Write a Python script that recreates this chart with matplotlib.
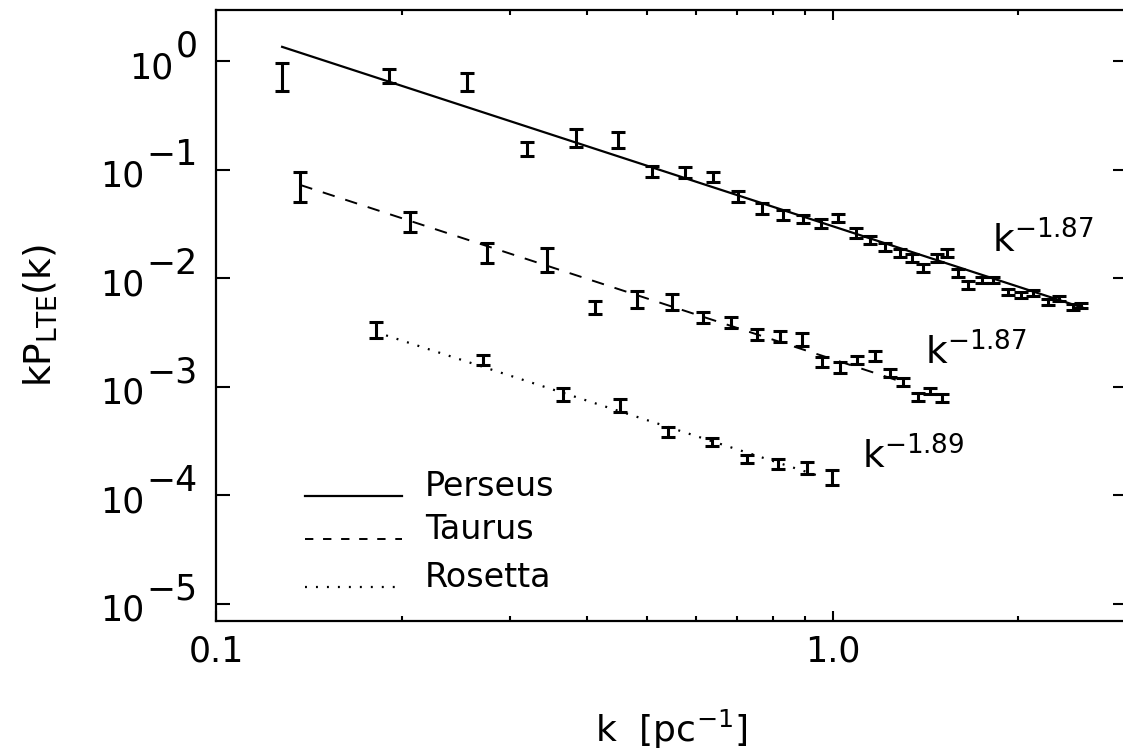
import numpy as np
import matplotlib
matplotlib.use('Agg')
import matplotlib.pyplot as plt
from matplotlib.ticker import LogLocator, NullLocator, NullFormatter, FixedLocator, FixedFormatter

plt.rcParams['font.family'] = 'DejaVu Sans'
plt.rcParams['mathtext.fontset'] = 'dejavusans'
plt.rcParams['mathtext.default'] = 'regular'
plt.rcParams['lines.scale_dashes'] = False

# Perseus: k [pc^-1], kP(k), half error bar in dex
pers_k = [0.128, 0.191, 0.255, 0.319, 0.383, 0.449, 0.510, 0.575, 0.639, 0.702,
          0.768, 0.830, 0.894, 0.956, 1.019, 1.089, 1.148, 1.214, 1.284, 1.343,
          1.40, 1.475, 1.53, 1.595, 1.655, 1.744, 1.816, 1.921, 2.02, 2.11,
          2.23, 2.33, 2.45, 2.53]
pers_p = [0.71, 0.73, 0.64, 0.155, 0.195, 0.187, 0.095, 0.093, 0.085, 0.056,
          0.044, 0.038, 0.035, 0.032, 0.0357, 0.026, 0.0224, 0.0193, 0.017, 0.0153,
          0.0124, 0.0153, 0.017, 0.0111, 0.0086, 0.0096, 0.0096, 0.0074, 0.0070, 0.0073,
          0.0060, 0.0065, 0.0054, 0.0056]
pers_err = [0.13, 0.065, 0.08, 0.065, 0.08, 0.075, 0.05, 0.05, 0.045, 0.05,
            0.05, 0.045, 0.04, 0.04, 0.04, 0.045, 0.04, 0.035, 0.035, 0.035,
            0.04, 0.035, 0.04, 0.035, 0.035, 0.03, 0.03, 0.03, 0.03, 0.025,
            0.03, 0.025, 0.025, 0.025]

# Taurus
taur_k = [0.137, 0.206, 0.275, 0.344, 0.411, 0.481, 0.548, 0.615, 0.685, 0.753,
          0.82, 0.891, 0.96, 1.026, 1.094, 1.17, 1.237, 1.30, 1.373, 1.436, 1.502]
taur_p = [0.069, 0.0328, 0.017, 0.0147, 0.0054, 0.0063, 0.0060, 0.0043, 0.0039, 0.0030,
          0.0029, 0.0027, 0.00168, 0.0015, 0.00175, 0.0019, 0.00133, 0.0011, 0.0008,
          0.00091, 0.00078]
taur_err = [0.14, 0.09, 0.09, 0.11, 0.06, 0.08, 0.07, 0.05, 0.05, 0.05,
            0.05, 0.06, 0.045, 0.05, 0.04, 0.045, 0.04, 0.035, 0.04, 0.03, 0.035]

# Rosetta
ros_k = [0.1815, 0.271, 0.365, 0.452, 0.540, 0.637, 0.725, 0.814, 0.908, 0.996]
ros_p = [0.00332, 0.00175, 0.00084, 0.00067, 0.000381, 0.000308, 0.000215,
         0.000193, 0.000177, 0.000144]
ros_err = [0.075, 0.045, 0.06, 0.06, 0.045, 0.035, 0.04, 0.045, 0.055, 0.07]

# power-law fits (end points)
pers_fit_k = [0.128, 2.55]
pers_fit_p = [1.35, 0.0053]
taur_fit_k = [0.137, 1.31]
taur_fit_p = [0.072, 0.00108]
ros_fit_k = [0.1815, 0.96]
ros_fit_p = [0.00318, 0.000147]

names = ['Perseus', 'Taurus', 'Rosetta']
slopes = ['-1.87', '-1.87', '-1.89']
slope_pos = [(1.81, 0.017), (1.41, 0.00158), (1.114, 1.77e-4)]

ytick_vals = [1e0, 1e-1, 1e-2, 1e-3, 1e-4, 1e-5]
ytick_exps = ['0', '\u22121', '\u22122', '\u22123', '\u22124', '\u22125']


def yerr_from_dex(p, e):
    p = np.array(p)
    e = np.array(e)
    return [p - p * 10**(-e), p * 10**e - p]


fig = plt.figure(figsize=(11.23, 7.55), dpi=100)
ax = fig.add_axes([216/1123, 134/755, 911/1123, 611/755])
ax.set_xscale('log')
ax.set_yscale('log')

for k, p, e in [(pers_k, pers_p, pers_err), (taur_k, taur_p, taur_err), (ros_k, ros_p, ros_err)]:
    ax.errorbar(k, p, yerr=yerr_from_dex(p, e), fmt='none', ecolor='black',
                elinewidth=2.2, capsize=4.8, capthick=2.2)

styles = ['-', (0, (9, 8)), (0, (1.4, 6.5))]
widths = [1.6, 1.4, 1.6]
for (fk, fp), ls, lw in zip([(pers_fit_k, pers_fit_p), (taur_fit_k, taur_fit_p), (ros_fit_k, ros_fit_p)],
                            styles, widths):
    ax.plot(fk, fp, color='black', lw=lw, linestyle=ls)

for s, (xk, yk) in zip(slopes, slope_pos):
    ax.text(xk, yk, 'k$^{' + s + '}$', fontsize=27, ha='left', va='baseline')

# legend drawn IDL-style: sample line sits on the text baseline
leg_y = [0.2046, 0.1342, 0.0556]
for name, ls, lw, yy in zip(names, styles, widths, leg_y):
    ax.plot([0.0977, 0.2042], [yy, yy], transform=ax.transAxes, color='black',
            lw=lw, linestyle=ls if ls != (0, (9, 8)) else (0, (6, 7)), clip_on=False)
    ax.text(0.2295, yy, name, transform=ax.transAxes, fontsize=24,
            ha='left', va='baseline')

ax.set_xlim(0.1, 3.0)
ax.set_ylim(10**-5.161, 10**0.47)

ax.xaxis.set_major_locator(FixedLocator([0.1, 1.0]))
ax.xaxis.set_major_formatter(FixedFormatter(['0.1', '1.0']))
ax.xaxis.set_minor_locator(LogLocator(base=10, subs=np.arange(2, 10)))
ax.xaxis.set_minor_formatter(NullFormatter())
ax.yaxis.set_major_locator(FixedLocator(ytick_vals))
ax.yaxis.set_major_formatter(NullFormatter())
ax.yaxis.set_minor_locator(NullLocator())

ax.tick_params(which='both', direction='in', top=True, right=True, width=1.5, color='black')
ax.tick_params(axis='y', which='major', length=10)
ax.tick_params(axis='x', which='major', length=7, labelsize=25, pad=10)
ax.tick_params(axis='x', which='minor', length=3.6)
for sp in ax.spines.values():
    sp.set_linewidth(1.6)

# IDL-style 10^n labels, exponent at full size
for v, ex in zip(ytick_vals, ytick_exps):
    et = ax.annotate(ex, xy=(0, v), xycoords=('axes fraction', 'data'),
                     xytext=(-13.5, 3), textcoords='offset points',
                     ha='right', va='baseline', fontsize=25, annotation_clip=False)
    ax.annotate('10', xy=(0, v), xycoords=(et, 'data'),
                xytext=(-1, -12.5), textcoords='offset points',
                ha='right', va='baseline', fontsize=25, annotation_clip=False)

ax.set_xlabel('k  [pc$^{-1}$]', fontsize=26, labelpad=28)
ax.set_ylabel('kP$_{LTE}$(k)', fontsize=27)
ax.yaxis.set_label_coords(-0.171, 0.5)

fig.savefig('out.png', dpi=100)
